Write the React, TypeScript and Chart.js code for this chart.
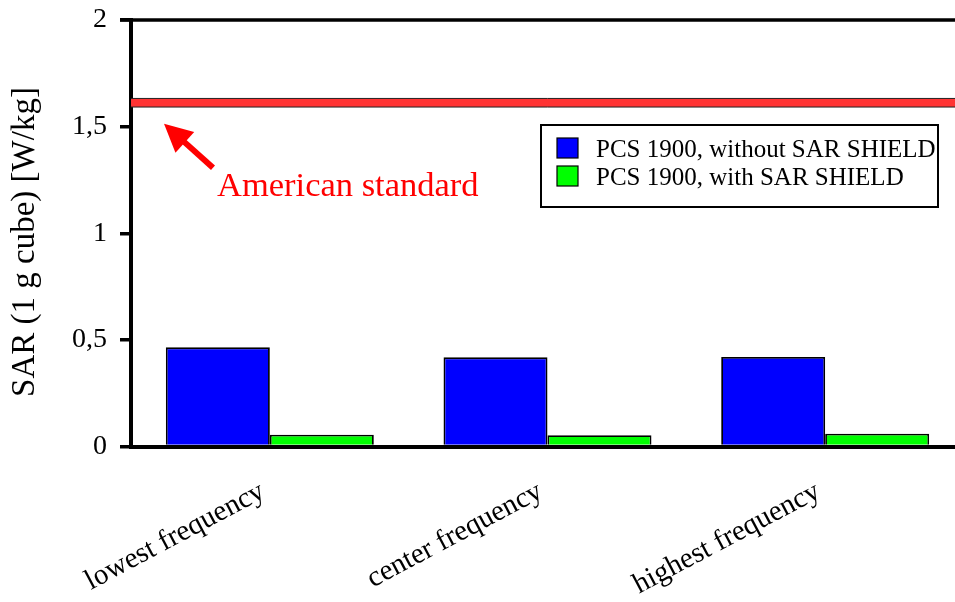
import React, { useEffect, useRef } from "react";
import { Chart, registerables } from "chart.js";

Chart.register(...registerables);

const categories = ["lowest frequency", "center frequency", "highest frequency"];
const seriesLabels = ["PCS 1900, without SAR SHIELD", "PCS 1900, with SAR SHIELD"];
const withoutShield = [0.465, 0.418, 0.42];
const withShield = [0.055, 0.053, 0.06];
const seriesColors = ["#0000ff", "#00ff00"];
const yTicks = [0, 0.5, 1, 1.5, 2];
const americanStandard = 1.612;
const standardLabel = "American standard";
const yTitle = "SAR (1 g cube) [W/kg]";

const FONT = '"Liberation Serif", "Times New Roman", Times, serif';

const decorPlugin = {
  id: "decor",
  afterDatasetsDraw(chart: any) {
    const { ctx, chartArea: ca, scales } = chart;
    const y = scales.y;
    ctx.save();
    // American standard band
    const yc = y.getPixelForValue(americanStandard);
    const half = 4.3;
    ctx.fillStyle = "#ff3333";
    ctx.fillRect(ca.left, yc - half, ca.right - ca.left, half * 2);
    ctx.strokeStyle = "#222";
    ctx.lineWidth = 1;
    ctx.beginPath();
    ctx.moveTo(ca.left, yc - half);
    ctx.lineTo(ca.right, yc - half);
    ctx.moveTo(ca.left, yc + half);
    ctx.lineTo(ca.right, yc + half);
    ctx.stroke();

    // arrow
    const tipX = ca.left + 33;
    const tipY = yc + 21;
    const endX = ca.left + 82;
    const endY = yc + 65;
    const ang = Math.atan2(endY - tipY, endX - tipX);
    const headLen = 28;
    const headHalf = 14;
    const bx = tipX + Math.cos(ang) * headLen;
    const by = tipY + Math.sin(ang) * headLen;
    ctx.strokeStyle = "#ff0000";
    ctx.lineWidth = 6;
    ctx.beginPath();
    ctx.moveTo(bx - Math.cos(ang) * 2, by - Math.sin(ang) * 2);
    ctx.lineTo(endX, endY);
    ctx.stroke();
    ctx.fillStyle = "#ff0000";
    ctx.beginPath();
    ctx.moveTo(tipX, tipY);
    ctx.lineTo(bx - Math.sin(ang) * headHalf, by + Math.cos(ang) * headHalf);
    ctx.lineTo(bx + Math.sin(ang) * headHalf, by - Math.cos(ang) * headHalf);
    ctx.closePath();
    ctx.fill();

    ctx.font = `34.5px ${FONT}`;
    ctx.textAlign = "left";
    ctx.textBaseline = "alphabetic";
    ctx.fillText(standardLabel, ca.left + 86, yc + 93);
    ctx.restore();
  },
  afterDraw(chart: any) {
    const { ctx, chartArea: ca } = chart;
    ctx.save();
    // top frame line
    ctx.strokeStyle = "#000";
    ctx.lineWidth = 3.5;
    ctx.beginPath();
    ctx.moveTo(ca.left - 11, ca.top);
    ctx.lineTo(ca.right, ca.top);
    ctx.stroke();

    // legend box
    const lx = ca.left + 410;
    const ly = ca.top + 105;
    const lw = 397;
    const lh = 82;
    ctx.fillStyle = "#fff";
    ctx.fillRect(lx, ly, lw, lh);
    ctx.lineWidth = 2;
    ctx.strokeStyle = "#000";
    ctx.strokeRect(lx, ly, lw, lh);
    ctx.font = `25px ${FONT}`;
    ctx.textAlign = "left";
    ctx.textBaseline = "alphabetic";
    seriesLabels.forEach((lab, i) => {
      const sy = ly + 13 + i * 28;
      ctx.fillStyle = seriesColors[i];
      ctx.fillRect(lx + 16, sy, 21, 20);
      ctx.lineWidth = 1.2;
      ctx.strokeStyle = "#000";
      ctx.strokeRect(lx + 16, sy, 21, 20);
      ctx.fillStyle = "#000";
      ctx.fillText(lab, lx + 55, sy + 19);
    });

    // y axis title
    ctx.translate(34, 242);
    ctx.rotate(-Math.PI / 2);
    ctx.font = `33px ${FONT}`;
    ctx.textAlign = "center";
    ctx.textBaseline = "alphabetic";
    ctx.fillStyle = "#000";
    ctx.fillText(yTitle, 0, 0);
    ctx.restore();
  },
};

export default function App() {
  const ref = useRef<HTMLCanvasElement | null>(null);
  useEffect(() => {
    if (!ref.current) return;
    const chart = new Chart(ref.current, {
      type: "bar",
      data: {
        labels: categories,
        datasets: [
          {
            label: seriesLabels[0],
            data: withoutShield,
            backgroundColor: seriesColors[0],
            borderColor: "#000",
            borderWidth: 1.8,
          },
          {
            label: seriesLabels[1],
            data: withShield,
            backgroundColor: seriesColors[1],
            borderColor: "#000",
            borderWidth: 1.8,
          },
        ],
      },
      options: {
        responsive: false,
        maintainAspectRatio: false,
        devicePixelRatio: 1,
        animation: false,
        layout: { padding: { left: 0, top: 20, right: 11, bottom: 0 } },
        datasets: { bar: { barPercentage: 1, categoryPercentage: 0.749 } },
        plugins: { legend: { display: false }, tooltip: { enabled: false }, title: { display: false } },
        scales: {
          x: {
            grid: { display: false },
            border: { display: true, color: "#000", width: 4 },
            ticks: {
              color: "#000",
              font: { family: FONT, size: 29 },
              maxRotation: 28,
              minRotation: 28,
              padding: 20,
              labelOffset: -7,
            },
            afterFit: (s: any) => {
              s.height = 155.5;
              s.paddingLeft = 0;
              s.paddingRight = 0;
            },
          },
          y: {
            min: 0,
            max: 2,
            grid: {
              display: true,
              drawOnChartArea: false,
              drawTicks: true,
              tickLength: 11,
              lineWidth: 3.5,
              color: "#000",
            },
            border: { display: true, color: "#000", width: 4 },
            ticks: {
              color: "#000",
              font: { family: FONT, size: 28 },
              padding: 13,
              callback: (v: any) => String(v).replace(".", ","),
            },
            afterBuildTicks: (s: any) => {
              s.ticks = yTicks.map((v) => ({ value: v }));
            },
            afterFit: (s: any) => {
              s.width = 131;
              s.paddingTop = 0;
              s.paddingBottom = 0;
            },
          },
        },
      } as any,
      plugins: [decorPlugin],
    });
    return () => chart.destroy();
  }, []);
  return (
    <div
      style={{
        position: "fixed",
        left: 0,
        top: 0,
        width: 955,
        height: 602,
        overflow: "hidden",
        background: "#fff",
      }}
    >
      <canvas ref={ref} width={975} height={602} style={{ display: "block", width: 975, height: 602 }} />
    </div>
  );
}
